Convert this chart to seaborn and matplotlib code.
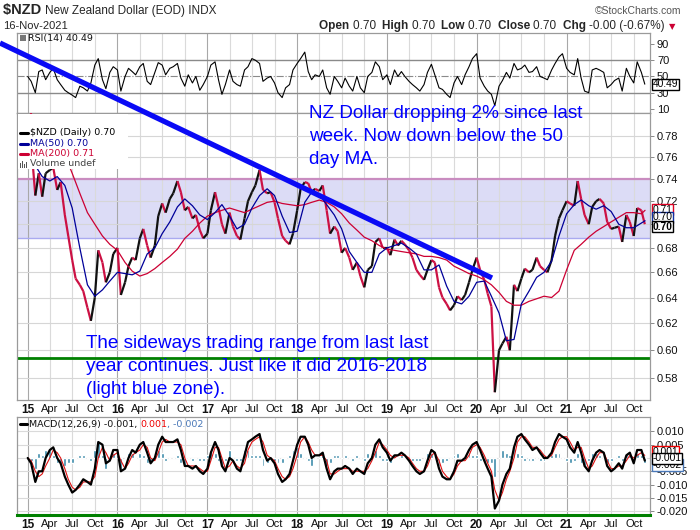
import numpy as np
import pandas as pd
import matplotlib
matplotlib.use("Agg")
import matplotlib.pyplot as plt
import matplotlib.dates as mdates
from matplotlib.collections import LineCollection
from matplotlib.lines import Line2D
from matplotlib.patches import Rectangle
import matplotlib.ticker as mticker
import seaborn as sns

# ------------------------------------------------------------------ data
# semi-monthly closes of $NZD (1st and 15th of each month), Jan-2015 .. Nov-2021
price_close = [
    0.780, 0.772, 0.725, 0.745, 0.724, 0.745, 0.748, 0.750, 0.730, 0.737, 0.708, 0.690,
    0.670, 0.655, 0.650, 0.645, 0.632, 0.622, 0.640, 0.678, 0.668, 0.652, 0.660, 0.675,
    0.680, 0.642, 0.652, 0.665, 0.672, 0.670, 0.688, 0.696, 0.682, 0.672, 0.682, 0.707,
    0.718, 0.710, 0.722, 0.727, 0.738, 0.728, 0.712, 0.715, 0.705, 0.708, 0.695, 0.688,
    0.692, 0.712, 0.728, 0.715, 0.700, 0.692, 0.710, 0.698, 0.690, 0.687, 0.705, 0.720,
    0.728, 0.734, 0.748, 0.730, 0.727, 0.728, 0.719, 0.705, 0.690, 0.686, 0.683, 0.692,
    0.712, 0.731, 0.737, 0.736, 0.728, 0.731, 0.729, 0.734, 0.712, 0.692, 0.698, 0.694,
    0.676, 0.680, 0.672, 0.662, 0.668, 0.657, 0.648, 0.662, 0.665, 0.685, 0.688, 0.680,
    0.680, 0.674, 0.687, 0.682, 0.686, 0.683, 0.678, 0.672, 0.662, 0.658, 0.654, 0.662,
    0.670, 0.668, 0.648, 0.640, 0.635, 0.630, 0.634, 0.641, 0.638, 0.642, 0.652, 0.662,
    0.672, 0.662, 0.654, 0.643, 0.633, 0.570, 0.600, 0.605, 0.610, 0.600, 0.650, 0.645,
    0.655, 0.663, 0.660, 0.662, 0.672, 0.665, 0.662, 0.660, 0.670, 0.690, 0.705, 0.712,
    0.720, 0.718, 0.716, 0.738, 0.722, 0.708, 0.700, 0.715, 0.720, 0.722, 0.718, 0.702,
    0.696, 0.697, 0.698, 0.685, 0.708, 0.702, 0.690, 0.714, 0.712, 0.700,
]

# monthly readings of the moving averages (1st of month) + last bar 16-Nov-2021
ma50 = [
    0.770, 0.752, 0.742, 0.738, 0.742, 0.734, 0.714, 0.680, 0.650, 0.641, 0.646, 0.653,
    0.660, 0.659, 0.658, 0.661, 0.675, 0.680, 0.692, 0.702, 0.715, 0.722, 0.716, 0.708,
    0.704, 0.710, 0.717, 0.707, 0.696, 0.700, 0.714, 0.725, 0.731, 0.725, 0.707, 0.693,
    0.694, 0.719, 0.728, 0.726, 0.717, 0.708, 0.696, 0.677, 0.668, 0.660, 0.660, 0.675,
    0.680, 0.682, 0.684, 0.680, 0.675, 0.662, 0.662, 0.666, 0.649, 0.637, 0.635, 0.641,
    0.652, 0.653, 0.641, 0.628, 0.607, 0.608, 0.635, 0.645, 0.656, 0.660, 0.669, 0.690,
    0.709, 0.717, 0.721, 0.716, 0.713, 0.716, 0.711, 0.700, 0.697, 0.697, 0.701, 0.703,
]
ma200 = [
    0.805, 0.797, 0.789, 0.781, 0.772, 0.762, 0.745, 0.727, 0.710, 0.700, 0.690, 0.683,
    0.678, 0.668, 0.661, 0.657, 0.659, 0.663, 0.668, 0.673, 0.679, 0.688, 0.694, 0.701,
    0.707, 0.710, 0.712, 0.714, 0.712, 0.710, 0.713, 0.716, 0.719, 0.720, 0.718, 0.717,
    0.716, 0.717, 0.719, 0.721, 0.719, 0.715, 0.709, 0.701, 0.695, 0.689, 0.686, 0.682,
    0.679, 0.678, 0.677, 0.676, 0.675, 0.673, 0.673, 0.672, 0.670, 0.665, 0.662, 0.659,
    0.657, 0.654, 0.650, 0.644, 0.637, 0.634, 0.634, 0.637, 0.639, 0.641, 0.640, 0.645,
    0.662, 0.678, 0.683, 0.689, 0.694, 0.698, 0.702, 0.706, 0.710, 0.710, 0.709, 0.712,
]

# RSI(14), semi-monthly readings
rsi14 = [
    50, 44, 30, 56, 58, 46, 55, 60, 46, 40, 33, 30, 27, 24, 38, 36, 32, 42, 64, 72, 46, 35, 55, 62,
    58, 32, 50, 60, 56, 52, 62, 66, 44, 40, 55, 67, 64, 52, 60, 62, 66, 48, 38, 52, 42, 50, 33, 40,
    50, 64, 68, 46, 28, 40, 58, 44, 40, 38, 58, 62, 72, 70, 66, 44, 48, 50, 42, 30, 24, 36, 40, 58,
    66, 72, 80, 56, 46, 52, 50, 58, 36, 28, 50, 44, 36, 48, 38, 32, 50, 36, 30, 50, 55, 68, 62, 46,
    52, 40, 58, 50, 56, 50, 44, 40, 36, 32, 40, 55, 65, 52, 36, 34, 28, 24, 42, 50, 40, 52, 62, 72,
    78, 48, 38, 32, 28, 14, 38, 45, 55, 48, 66, 58, 60, 64, 55, 56, 62, 50, 48, 46, 58, 66, 74, 78,
    60, 55, 52, 72, 48, 32, 30, 58, 60, 58, 55, 36, 40, 45, 48, 32, 60, 50, 42, 68, 55, 40.49,
]

# MACD(12,26,9) line and signal, semi-monthly readings
macd_line = [
    0.000, -0.002, -0.009, -0.005, -0.005, 0.000, 0.003, 0.004, 0.000, -0.002, -0.007, -0.010,
    -0.013, -0.012, -0.010, -0.008, -0.009, -0.010, -0.004, 0.006, 0.005, -0.002, -0.001, 0.003,
    0.003, -0.005, -0.004, 0.000, 0.003, 0.002, 0.005, 0.006, 0.002, -0.002, 0.000, 0.005,
    0.008, 0.006, 0.006, 0.006, 0.007, 0.003, -0.003, -0.003, -0.004, -0.003, -0.005, -0.006,
    -0.004, 0.002, 0.006, 0.003, -0.003, -0.005, 0.000, -0.001, -0.004, -0.005, 0.001, 0.006,
    0.007, 0.008, 0.009, 0.003, -0.001, 0.000, -0.002, -0.006, -0.009, -0.008, -0.006, -0.001,
    0.005, 0.008, 0.008, 0.005, 0.000, 0.001, 0.001, 0.002, -0.004, -0.008, -0.005, -0.004,
    -0.004, -0.003, -0.004, -0.006, -0.004, -0.005, -0.006, -0.002, 0.000, 0.005, 0.007, 0.004,
    0.002, -0.001, 0.001, 0.001, 0.002, 0.001, -0.001, -0.003, -0.005, -0.006, -0.005, -0.001,
    0.003, 0.002, -0.004, -0.007, -0.008, -0.008, -0.005, -0.001, -0.001, 0.000, 0.003, 0.005,
    0.006, 0.003, -0.001, -0.004, -0.007, -0.019, -0.016, -0.010, -0.006, -0.004, 0.004, 0.008,
    0.009, 0.007, 0.005, 0.003, 0.004, 0.002, 0.000, 0.000, 0.002, 0.006, 0.009, 0.008,
    0.007, 0.004, 0.002, 0.006, 0.002, -0.003, -0.005, -0.001, 0.002, 0.003, 0.002, -0.003,
    -0.005, -0.004, -0.002, -0.004, 0.001, 0.002, -0.002, 0.003, 0.003, -0.001,
]
macd_signal = [
    0.000, -0.001, -0.005, -0.007, -0.006, -0.003, 0.000, 0.003, 0.002, 0.000, -0.004, -0.008,
    -0.011, -0.012, -0.011, -0.009, -0.009, -0.009, -0.007, 0.000, 0.004, 0.002, -0.001, 0.001,
    0.002, -0.001, -0.004, -0.002, 0.001, 0.002, 0.003, 0.005, 0.004, 0.000, -0.001, 0.002,
    0.006, 0.007, 0.006, 0.006, 0.006, 0.005, 0.000, -0.003, -0.003, -0.003, -0.004, -0.005,
    -0.005, -0.001, 0.004, 0.004, 0.000, -0.004, -0.003, -0.001, -0.003, -0.004, -0.002, 0.003,
    0.006, 0.007, 0.008, 0.006, 0.001, 0.000, -0.001, -0.004, -0.007, -0.008, -0.007, -0.004,
    0.001, 0.006, 0.008, 0.006, 0.003, 0.001, 0.001, 0.001, -0.001, -0.006, -0.006, -0.005,
    -0.004, -0.004, -0.004, -0.005, -0.005, -0.005, -0.005, -0.004, -0.001, 0.002, 0.006, 0.005,
    0.003, 0.001, 0.000, 0.001, 0.001, 0.001, 0.000, -0.002, -0.004, -0.005, -0.005, -0.003,
    0.001, 0.002, -0.001, -0.005, -0.007, -0.008, -0.006, -0.003, -0.001, -0.001, 0.001, 0.004,
    0.005, 0.004, 0.001, -0.002, -0.005, -0.012, -0.016, -0.013, -0.008, -0.005, 0.000, 0.006,
    0.008, 0.008, 0.006, 0.004, 0.004, 0.003, 0.001, 0.000, 0.001, 0.004, 0.007, 0.008,
    0.008, 0.006, 0.003, 0.004, 0.004, 0.000, -0.004, -0.003, 0.000, 0.002, 0.002, -0.001,
    -0.004, -0.004, -0.003, -0.003, -0.001, 0.001, 0.000, 0.001, 0.002, 0.001,
]

band_low, band_high = 0.688, 0.740      # light blue trading-range zone
support_level = 0.594                   # green line
price_ticks = [0.58, 0.60, 0.62, 0.64, 0.66, 0.68, 0.70, 0.72, 0.74, 0.76, 0.78]
rsi_ticks = [10, 30, 50, 70, 90]
macd_ticks = [0.010, 0.005, -0.005, -0.010, -0.015, -0.020]

note_top = ["NZ Dollar dropping 2% since last", "week. Now down below the 50", "day MA."]
note_bottom = ["The sideways trading range from last last",
               "year continues. Just like it did 2016-2018", "(light blue zone)."]

# ------------------------------------------------------------------ dates
price_dates = pd.date_range("2015-01-01", periods=len(price_close), freq="SMS")
ma_dates = pd.date_range("2015-01-01", periods=len(ma50) - 1, freq="MS").append(
    pd.DatetimeIndex(["2021-11-16"]))

# ------------------------------------------------------------------ figure
sns.set_theme(style="white")
plt.rcParams["font.family"] = ["DejaVu Sans"]
plt.rcParams["axes.unicode_minus"] = False

W, H = 700, 530
fig = plt.figure(figsize=(7.0, 5.3), dpi=100)
fig.patch.set_facecolor("white")


def fx(px):
    return px / W


def fy(py):
    return 1 - py / H


L, R = 17, 650
ax_r = fig.add_axes([fx(L), fy(113), (R - L) / W, (113 - 33) / H])
ax_p = fig.add_axes([fx(L), fy(400), (R - L) / W, (400 - 113) / H])
ax_m = fig.add_axes([fx(L), fy(515), (R - L) / W, (515 - 417) / H])


def px2date(px):
    return pd.Timestamp("2015-01-01") + pd.Timedelta(days=(px - 27.7) / 89.8 * 365.25)


xlim = (px2date(L), px2date(R))
quarters = pd.date_range("2015-01-01", "2021-10-01", freq="QS")
NARROW = ["Liberation Sans Narrow", "Liberation Sans", "DejaVu Sans"]
ARIAL = ["Liberation Sans", "DejaVu Sans"]

for ax in (ax_r, ax_p, ax_m):
    ax.set_facecolor("white")
    for q in quarters:
        ax.axvline(q, color="#a8a8a8" if q.month == 1 else "#dadada", lw=0.8, zorder=0.6)
    for s in ax.spines.values():
        s.set_color("#9a9a9a")
        s.set_linewidth(0.9)
    ax.yaxis.tick_right()
    ax.tick_params(axis="y", which="both", right=True, left=False, length=3, width=0.6,
                   color="#777777", labelsize=8, pad=2, labelcolor="#111111")
    ax.tick_params(axis="x", length=0)
    ax.grid(False)

# ---------------- RSI panel
sns.lineplot(x=price_dates, y=rsi14, ax=ax_r, color="black", lw=0.8, zorder=3)
ax_r.set_ylim(5, 103.5)
ax_r.set_yticks(rsi_ticks)
ax_r.yaxis.set_major_formatter(mticker.FormatStrFormatter("%d"))
ax_r.axhline(70, color="#8a8a8a", lw=1.0, zorder=1)
ax_r.axhline(30, color="#8a8a8a", lw=1.0, zorder=1)
ax_r.axhline(50, color="#8a8a8a", lw=0.8, ls="-.", zorder=1)
ax_r.set_xlim(*xlim)
ax_r.set_xticks(quarters)
ax_r.set_xticklabels([])
ax_r.set_xlabel("")
ax_r.set_ylabel("")

# ---------------- price panel
ax_p.set_yscale("log")
ax_p.axhspan(band_low, band_high, color="#dcdcf6", zorder=0.5, lw=0)
for t in price_ticks:
    ax_p.axhline(t, color="#d6d6d6", lw=0.8, zorder=0.7)
ax_p.axhline(band_high, color="#c98cc0", lw=1.6, zorder=1)
ax_p.axhline(band_low, color="#aaaaf0", lw=1.0, zorder=1)
ax_p.axhline(support_level, color="#008000", lw=2.0, zorder=1)

sns.lineplot(x=ma_dates, y=ma200, ax=ax_p, color="#cc0033", lw=0.9, zorder=4)
sns.lineplot(x=ma_dates, y=ma50, ax=ax_p, color="#000099", lw=0.9, zorder=5)

xs = mdates.date2num(price_dates)
pts = np.column_stack([xs, np.asarray(price_close)])
segs = np.stack([pts[:-1], pts[1:]], axis=1)
seg_cols = ["#111111" if b >= a else "#cc1144" for a, b in zip(price_close[:-1], price_close[1:])]
ax_p.add_collection(LineCollection(segs, colors=seg_cols, linewidths=1.6, zorder=3))

ax_p.set_ylim(0.5646, 0.802)
ax_p.yaxis.set_major_locator(mticker.FixedLocator(price_ticks))
ax_p.yaxis.set_minor_locator(mticker.NullLocator())
ax_p.yaxis.set_major_formatter(
    mticker.FuncFormatter(lambda v, p: "" if abs(v - 0.70) < 1e-6 else f"{v:.2f}"))
ax_p.set_xlim(*xlim)
ax_p.set_xlabel("")
ax_p.set_ylabel("")

# ---------------- MACD panel
hist = np.asarray(macd_line) - np.asarray(macd_signal)
ax_m.bar(price_dates, hist, width=12, color="#3a8aa8", zorder=2)
sns.lineplot(x=price_dates, y=macd_signal, ax=ax_m, color="#e01010", lw=0.8, zorder=3)
sns.lineplot(x=price_dates, y=macd_line, ax=ax_m, color="black", lw=1.6, zorder=4)
for t in macd_ticks + [0.0]:
    ax_m.axhline(t, color="#dadada", lw=0.8, zorder=0.7)
ax_m.set_ylim(-0.02143, 0.01541)
ax_m.set_yticks(macd_ticks)
ax_m.yaxis.set_major_formatter(mticker.FormatStrFormatter("%.3f"))
ax_m.set_xlim(*xlim)
ax_m.set_xlabel("")
ax_m.set_ylabel("")
ax_m.spines["bottom"].set_color("#008000")
ax_m.spines["bottom"].set_linewidth(2.2)

for ax in (ax_r, ax_p, ax_m):
    for lab in ax.get_yticklabels():
        lab.set_family(ARIAL)

# date labels under price and MACD panels
qlabels = [q.strftime("%y") if q.month == 1 else q.strftime("%b") for q in quarters]
for ax in (ax_p, ax_m):
    ax.set_xticks(quarters)
    ax.set_xticklabels(qlabels, fontsize=8, family=NARROW, color="#111111")
    ax.tick_params(axis="x", pad=3)
    for lab, q in zip(ax.get_xticklabels(), quarters):
        if q.month == 1:
            lab.set_fontweight("bold")
            lab.set_fontsize(8.5)

# ---------------- value tags on right axis
def tag(ax, yv, text, ec, bold=False):
    ax.annotate(text, xy=(1.0, yv), xycoords=("axes fraction", "data"), xytext=(2, 0),
                textcoords="offset points", ha="left", va="center", fontsize=7.4,
                family=ARIAL, fontweight="bold" if bold else "normal", color="black",
                bbox=dict(boxstyle="square,pad=0.06", fc="white", ec=ec, lw=1.0),
                annotation_clip=False, zorder=10)


tag(ax_p, 0.7125, "0.71", "#dd0022")
tag(ax_p, 0.7060, "0.70", "#1030a0")
tag(ax_p, 0.6980, "0.70", "black", bold=True)
tag(ax_r, 40.49, "40.49", "black")
tag(ax_m, 0.0024, "0.001", "#ee0000")
tag(ax_m, -0.0026, "-0.002", "#4a78b8")
tag(ax_m, -0.0001, "-0.001", "black")

# ---------------- legends (drawn at figure level)
fig.patches.append(Rectangle((fx(18), fy(169)), (128 - 18) / W, (169 - 114) / H,
                             transform=fig.transFigure, fc="white", ec="none", zorder=1.5))
leg_rows = [("$NZD (Daily) 0.70", "black", 132.5), ("MA(50) 0.70", "#000099", 143.5),
            ("MA(200) 0.71", "#cc0033", 154), ("Volume undef", "#444444", 164)]
for i, (txt, col, yy) in enumerate(leg_rows):
    if i < 3:
        fig.add_artist(Line2D([fx(20), fx(28)], [fy(yy), fy(yy)], color=col, lw=2.2, zorder=2))
    else:
        for k, hh in enumerate([5, 7, 4, 6]):
            fig.patches.append(Rectangle((fx(20 + 2 * k), fy(yy + 3.5)), 1.4 / W, hh / H,
                                         transform=fig.transFigure, fc="#555555", ec="none",
                                         zorder=2))
    fig.text(fx(30), fy(yy), txt.replace("$", r"\$"), color=col, fontsize=6.8,
             va="center", ha="left", zorder=3)

# RSI label
fig.patches.append(Rectangle((fx(20), fy(41)), 6 / W, 6 / H, transform=fig.transFigure,
                             fc="#777777", ec="none", zorder=2))
fig.text(fx(28), fy(38), "RSI(14) 40.49", fontsize=6.8, va="center", ha="left", color="#111111")

renderer = fig.canvas.get_renderer()


def chain(pieces, x_px, y_px, ha="left"):
    texts = []
    for s, kw in pieces:
        texts.append(fig.text(0, fy(y_px), s, va="baseline", ha="left", **kw))
    widths = [t.get_window_extent(renderer).width for t in texts]
    x0 = x_px if ha == "left" else x_px - sum(widths)
    for t, w in zip(texts, widths):
        t.set_x(x0 / W)
        x0 += w
    return texts


# MACD label
fig.add_artist(Line2D([fx(20), fx(27)], [fy(424), fy(424)], color="black", lw=2.2))
chain([("MACD(12,26,9) -0.001, ", dict(fontsize=6.8, color="#111111")),
       ("0.001", dict(fontsize=6.8, color="#ee0000")),
       (", -0.002", dict(fontsize=6.8, color="#4a78b8"))], 29, 427)

# ---------------- header
chain([(r"\$NZD ", dict(fontsize=10.5, fontweight="bold", family=NARROW)),
       ("New Zealand Dollar (EOD) INDX", dict(fontsize=8.5, family=NARROW))], 3, 14)
fig.text(fx(3), fy(29), "16-Nov-2021", fontsize=8, family=NARROW, va="baseline")
fig.text(fx(681), fy(14), "\u00a9StockCharts.com", fontsize=7.5, family=ARIAL,
         color="#555555", ha="right", va="baseline")
B = dict(fontsize=8.5, fontweight="bold", family=NARROW)
N = dict(fontsize=8.5, family=NARROW)
chain([("Open ", B), ("0.70  ", N), ("High ", B), ("0.70  ", N), ("Low ", B), ("0.70  ", N),
       ("Close ", B), ("0.70  ", N), ("Chg ", B), ("-0.00 (-0.67%) ", N)], 668, 29, ha="right")
fig.text(fx(669), fy(29), "\u25bc", fontsize=6, color="#cc0033", va="baseline", ha="left",
         family=["DejaVu Sans"])

# ---------------- annotations
for i, line in enumerate(note_top):
    fig.text(fx(309), fy(118.5 + 22.75 * i), line, color="#0000ff", fontsize=13.6,
             family=ARIAL, va="baseline", ha="left", zorder=6)
for i, line in enumerate(note_bottom):
    fig.text(fx(86), fy(348.3 + 22.75 * i), line, color="#0000ff", fontsize=13.6,
             family=ARIAL, va="baseline", ha="left", zorder=6)

# thick blue trend line drawn on top of the panels
fig.add_artist(Line2D([fx(0), fx(492)], [fy(43), fy(278)], color="#0a0af5", lw=3.8,
                      solid_capstyle="butt", zorder=7))

fig.savefig("out.png", dpi=100, facecolor="white")
